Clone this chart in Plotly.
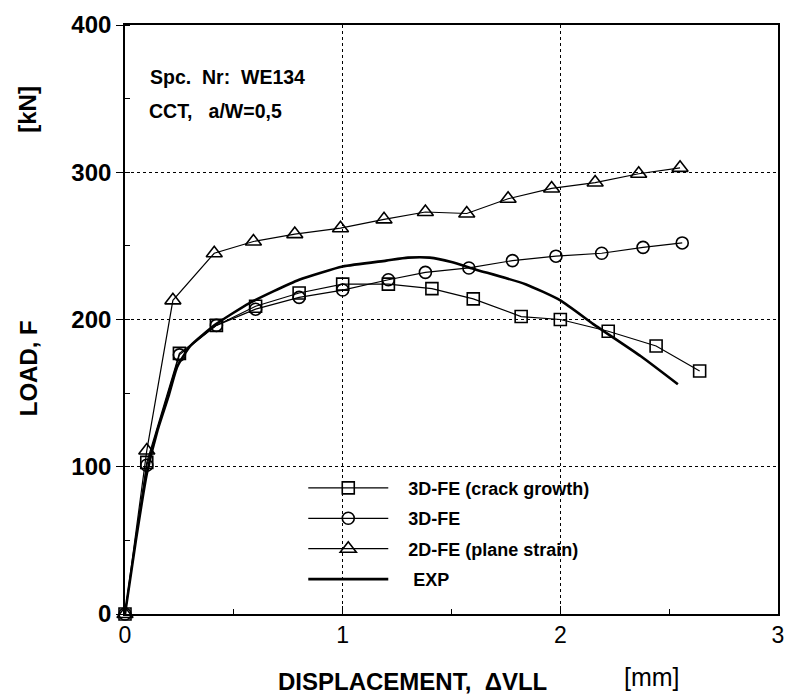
import plotly.graph_objects as go

# 3D-FE (crack growth)
x_cg = [0.0, 0.10, 0.25, 0.42, 0.60, 0.80, 1.00, 1.21, 1.41, 1.60, 1.82, 2.00, 2.22, 2.44, 2.64]
y_cg = [0, 103, 177, 196, 209, 218, 224, 224, 221, 214, 202, 200, 192, 182, 165]

# 3D-FE
x_3d = [0.0, 0.10, 0.25, 0.42, 0.60, 0.80, 1.00, 1.21, 1.38, 1.58, 1.78, 1.98, 2.19, 2.38, 2.56]
y_3d = [0, 101, 176, 196, 207, 215, 220, 227, 232, 235, 240, 243, 245, 249, 252]

# 2D-FE (plane strain)
x_2d = [0.0, 0.10, 0.22, 0.41, 0.59, 0.78, 0.99, 1.19, 1.38, 1.57, 1.76, 1.96, 2.16, 2.36, 2.55]
y_2d = [0, 111, 213, 245, 253, 258, 262, 268, 273, 272, 282, 289, 293, 299, 303]

# EXP
x_exp = [0.0, 0.05, 0.10, 0.15, 0.20, 0.24, 0.30, 0.42, 0.57, 0.80, 1.00, 1.20, 1.30, 1.40, 1.50, 1.61, 1.84, 2.00, 2.16, 2.37, 2.54]
y_exp = [0, 50, 95, 125, 148, 168, 182, 197, 211, 227, 236, 240, 242, 242, 239, 234, 224, 213, 196, 175, 156]

x_ticks = [0, 1, 2, 3]
y_ticks = [0, 100, 200, 300, 400]

FONT = "Liberation Sans, Arial, sans-serif"
NB = "\u00a0"

fig = go.Figure()
mk_line = dict(color="black", width=1.6)
fig.add_trace(go.Scatter(x=x_cg, y=y_cg, mode="lines+markers", name=NB * 3 + "3D-FE (crack growth)",
                         line=dict(color="black", width=1.2), legendgroup="a",
                         marker=dict(symbol="square-open", size=12, color="black", line=mk_line),
                         cliponaxis=False))
fig.add_trace(go.Scatter(x=x_3d, y=y_3d, mode="lines+markers", name=NB * 3 + "3D-FE",
                         line=dict(color="black", width=1.2), legendgroup="b",
                         marker=dict(symbol="circle-open", size=12, color="black", line=mk_line),
                         cliponaxis=False))
fig.add_trace(go.Scatter(x=x_2d, y=y_2d, mode="lines+markers", name=NB * 3 + "2D-FE (plane strain)",
                         line=dict(color="black", width=1.2), legendgroup="c",
                         marker=dict(symbol="triangle-up-open", size=14, color="black", line=mk_line),
                         cliponaxis=False))
fig.add_trace(go.Scatter(x=x_exp, y=y_exp, mode="lines", name=NB * 4 + "EXP", legendgroup="d",
                         line=dict(color="black", width=2.6, shape="spline", smoothing=0.5)))

fig.update_layout(
    width=795, height=700,
    margin=dict(l=125, r=11, t=17, b=86),
    paper_bgcolor="white", plot_bgcolor="white",
    font=dict(family=FONT, color="black"),
    showlegend=True,
    legend=dict(x=0.273, y=0.245, xanchor="left", yanchor="top",
                bgcolor="rgba(0,0,0,0)", borderwidth=0,
                font=dict(size=18, family=FONT, color="black", weight="bold"),
                itemwidth=80, tracegroupgap=4, traceorder="grouped"),
    xaxis=dict(range=[0, 3], tickvals=x_ticks, showline=True, mirror=True,
               linecolor="black", linewidth=1.6, ticks="inside", ticklen=8,
               tickcolor="black", tickfont=dict(size=23, family=FONT),
               showgrid=True, gridcolor="black", griddash="dot", gridwidth=1,
               zeroline=False,
               minor=dict(dtick=0.5, ticks="inside", ticklen=5, tickcolor="black", showgrid=False)),
    yaxis=dict(range=[0, 400], tickvals=y_ticks, showline=True, mirror=True,
               linecolor="black", linewidth=1.6, ticks="outside", ticklen=7,
               tickcolor="black", tickfont=dict(size=24, family=FONT, weight="bold"),
               showgrid=True, gridcolor="black", griddash="dot", gridwidth=1,
               zeroline=False,
               minor=dict(dtick=50, ticks="inside", ticklen=5, tickcolor="black", showgrid=False)),
)

annots = [
    dict(text="Spc.  Nr:  WE134", x=148, y=70, size=19.5),
    dict(text="CCT,   a/W=0,5", x=147, y=104, size=19.5),
]
for a in annots:
    fig.add_annotation(text=a["text"], xref="paper", yref="paper",
                       x=(a["x"] - 125) / 659, y=1 - (a["y"] - 17) / 597,
                       xanchor="left", yanchor="middle", showarrow=False,
                       font=dict(size=a["size"], family=FONT, weight="bold"))

# axis titles
fig.add_annotation(text="LOAD, F", xref="paper", yref="paper",
                   x=(27 - 125) / 659, y=1 - (365 - 17) / 597, textangle=-90,
                   xanchor="center", yanchor="middle", showarrow=False,
                   font=dict(size=24, family=FONT, weight="bold"))
fig.add_annotation(text="[kN]", xref="paper", yref="paper",
                   x=(27 - 125) / 659, y=1 - (102 - 17) / 597, textangle=-90,
                   xanchor="center", yanchor="middle", showarrow=False,
                   font=dict(size=24, family=FONT, weight="bold"))
fig.add_annotation(text="DISPLACEMENT,  ΔVLL", xref="paper", yref="paper",
                   x=(415 - 125) / 659, y=1 - (682 - 17) / 597,
                   xanchor="center", yanchor="middle", showarrow=False,
                   font=dict(size=24, family=FONT, weight="bold"))
fig.add_annotation(text="[mm]", xref="paper", yref="paper",
                   x=(657 - 125) / 659, y=1 - (678 - 17) / 597,
                   xanchor="center", yanchor="middle", showarrow=False,
                   font=dict(size=25, family=FONT))

fig.write_html("out.html")
